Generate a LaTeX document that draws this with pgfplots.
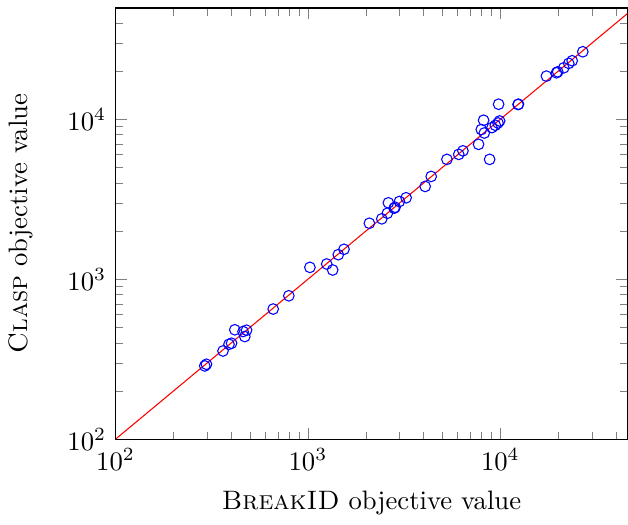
\documentclass[border=0pt]{standalone}
\usepackage{pgfplots}
\pgfplotsset{compat=1.18}
\begin{document}
\begin{tikzpicture}
\begin{loglogaxis}[
    scale only axis,
    width=192pt,
    height=161.7pt,
    xmin=100, xmax=45800,
    ymin=100, ymax=49600,
    xlabel={\textsc{BreakID} objective value},
    ylabel={\textsc{Clasp} objective value},
    ylabel style={yshift=6pt},
    xlabel style={yshift=-1pt},
]
\addplot[red, no markers] coordinates {(100,100) (60000,60000)};
\addplot[blue, only marks, mark=o] coordinates {
(297,294) (291,287) (362,356) (389,392) (401,398) (417,483)
(460,471) (480,480) (470,438) (660,651) (796,788)
(1024,1186) (1252,1245) (1345,1142) (1438,1424) (1540,1538)
(2086,2238) (2421,2385) (2588,2585) (2619,3004) (2805,2779)
(2839,2819) (2989,3061) (3239,3229) (4068,3802) (4372,4391)
(5278,5613) (6080,6033) (6393,6345) (7709,6970) (8797,5613)
(7962,8619) (8254,8206) (8185,9856) (9052,8872) (9419,9171)
(9727,9480) (9917,9757) (9797,12416) (12366,12366) (12420,12420)
(17363,18608) (19573,19512) (19880,19800) (21366,20970)
(22686,22350) (23630,23209) (26833,26420)
};
\end{loglogaxis}
% a little white room above the axis, as in the reference
\path ([yshift=3pt]current axis.north);
\end{tikzpicture}
\end{document}
